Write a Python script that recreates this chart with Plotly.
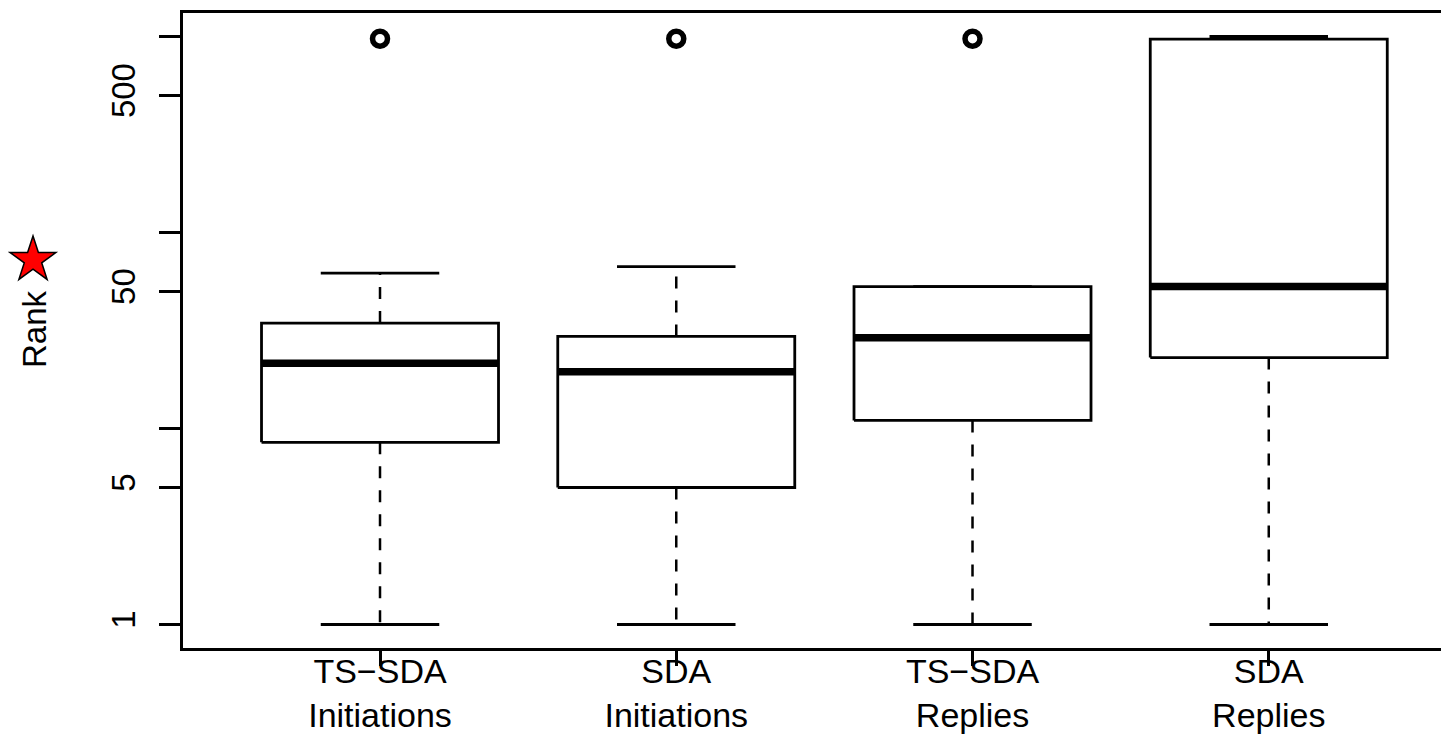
import math
import plotly.graph_objects as go

# ---- data ----
categories = ["TS\u2212SDA<br>Initiations", "SDA<br>Initiations",
              "TS\u2212SDA<br>Replies", "SDA<br>Replies"]
positions = [1, 2, 3, 4]
lower_whisker = [1, 1, 1, 1]
q1 = [8.5, 5.0, 11.0, 23.0]
median = [21.5, 19.5, 29.0, 53.0]
q3 = [34.5, 29.5, 53.0, 970.0]
upper_whisker = [62.0, 67.0, 53.0, 1000.0]
outliers = [[975.0], [975.0], [975.0], []]
ytick_vals = [1, 5, 10, 50, 100, 500, 1000]
ytick_text = ["1", "5", "", "50", "", "500", ""]

BOX_HALF = 0.4
CAP_HALF = 0.2
FONT = "Liberation Sans, Arial, sans-serif"
FS_X = 34
FS_Y = 33

fig = go.Figure()
for i, p in enumerate(positions):
    # whiskers (dashed), drawn from the box outward
    fig.add_trace(go.Scatter(x=[p, p], y=[q3[i], upper_whisker[i]], mode="lines",
                             line=dict(color="black", width=2.5, dash="12px,12px"),
                             hoverinfo="skip"))
    fig.add_trace(go.Scatter(x=[p, p], y=[q1[i], lower_whisker[i]], mode="lines",
                             line=dict(color="black", width=2.5, dash="12px,12px"),
                             hoverinfo="skip"))
    # caps
    for v in (upper_whisker[i], lower_whisker[i]):
        fig.add_trace(go.Scatter(x=[p - CAP_HALF, p + CAP_HALF], y=[v, v], mode="lines",
                                 line=dict(color="black", width=2.8), hoverinfo="skip"))
    # box
    fig.add_trace(go.Scatter(
        x=[p - BOX_HALF, p + BOX_HALF, p + BOX_HALF, p - BOX_HALF, p - BOX_HALF],
        y=[q1[i], q1[i], q3[i], q3[i], q1[i]], mode="lines",
        line=dict(color="black", width=2.8), fill="toself", fillcolor="white",
        hoverinfo="skip"))
    # median
    fig.add_trace(go.Scatter(x=[p - BOX_HALF, p + BOX_HALF], y=[median[i], median[i]],
                             mode="lines", line=dict(color="black", width=7.5),
                             hoverinfo="skip"))
    # outliers
    if outliers[i]:
        fig.add_trace(go.Scatter(x=[p] * len(outliers[i]), y=outliers[i], mode="markers",
                                 marker=dict(symbol="circle-open", size=15, color="black",
                                             line=dict(width=5.5, color="black")),
                                 hoverinfo="skip"))

# ---- layout ----
# the page body has an 8px default margin, so the figure is shifted by 8px
OFF = 8
W, H = 1449 - OFF, 734 - OFF
ML, MR, MT, MB = 183 - OFF, 0, 13 - OFF, 86
PW, PH = W - ML - MR, H - MT - MB


def px_to_paper(px, py):
    # px, py: page pixel coordinates
    return (px - OFF - ML) / PW, (H - MB - (py - OFF)) / PH


# red star decoration next to the axis title
cx, cy, R = 33, 260, 24
r_in = R * 0.382
pts = []
for k in range(10):
    ang = math.radians(90 + k * 36)
    rad = R if k % 2 == 0 else r_in
    pts.append(px_to_paper(cx + rad * math.cos(ang), cy - rad * math.sin(ang)))
path = "M " + " L ".join(f"{x:.5f},{y:.5f}" for x, y in pts) + " Z"

tx, ty = px_to_paper(34, 329)

fig.update_layout(
    width=W, height=H,
    margin=dict(l=ML, r=MR, t=MT, b=MB, pad=0, autoexpand=False),
    plot_bgcolor="white", paper_bgcolor="white",
    showlegend=False,
    font=dict(family=FONT, size=FS_Y, color="black"),
    xaxis=dict(range=[0.335, 0.335 + PW / 296.25], tickmode="array", tickvals=positions,
               ticktext=categories, ticks="outside", ticklen=15, tickwidth=2.5,
               tickcolor="black", showline=True, linewidth=3, linecolor="black",
               mirror=True, showgrid=False, zeroline=False, automargin=False,
               ticklabelstandoff=-24,
               tickfont=dict(family=FONT, size=FS_X, color="black")),
    yaxis=dict(type="log", range=[-0.12, 3.12], tickmode="array", tickvals=ytick_vals,
               ticktext=ytick_text, ticks="outside", ticklen=21, tickwidth=2.5,
               tickcolor="black", showline=True, linewidth=3, linecolor="black",
               mirror=False, showgrid=False, zeroline=False, tickangle=-90,
               automargin=False, ticklabelstandoff=11,
               tickfont=dict(family=FONT, size=FS_Y, color="black")),
    shapes=[dict(type="path", path=path, xref="paper", yref="paper",
                 fillcolor="red", line=dict(color="black", width=1.5), layer="above")],
    annotations=[dict(text="Rank", x=tx, y=ty, xref="paper", yref="paper",
                      xanchor="center", yanchor="middle", textangle=-90,
                      showarrow=False, font=dict(family=FONT, size=FS_Y, color="black"))],
)

fig.write_html("out.html")
